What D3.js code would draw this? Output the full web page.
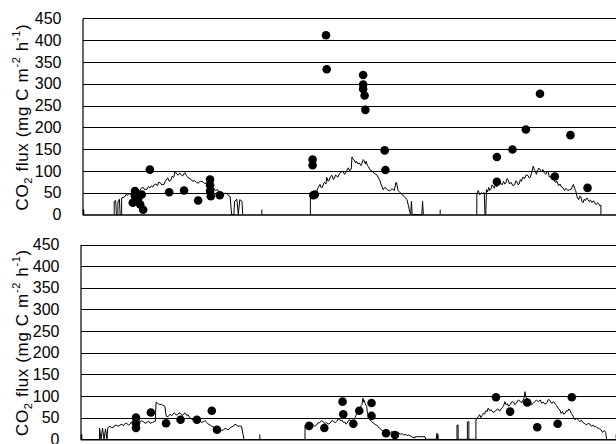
<!DOCTYPE html>
<html>
<head>
<meta charset="utf-8">
<script src="https://cdn.jsdelivr.net/npm/d3@7"></script>
<style>
  body { margin: 0; background: #fff; }
  text { font-family: "Liberation Sans", Arial, sans-serif; }
</style>
</head>
<body>
<div id="chart"></div>
<script>
// y ticks shared by both panels
const yTicks = [0, 50, 100, 150, 200, 250, 300, 350, 400, 450];
// day boundaries, hours
const dayTicks = [0, 24, 48, 72];

// top panel: continuous trace [hour, flux], one array per day
const topTraceDay1 = [[4.2,0],[4.2,30],[4.4,32],[4.5,0],[4.7,0],[4.7,28],[4.9,35],[5.0,0],[5.2,0],[5.2,38],[5.6,40],
  [5.8,46],[6.0,44],[6.2,49],[6.4,45],[6.6,47],[6.8,53],[7.0,50],[7.2,52],[7.4,57],[7.6,54],[7.8,60],[8.1,62],
  [8.3,57],[8.6,58],[8.8,64],[9.0,61],[9.2,66],[9.4,63],[9.6,69],[9.8,70],[10.0,66],[10.2,74],[10.4,73],
  [10.6,68],[10.9,69],[11.1,77],[11.4,84],[11.6,76],[11.8,78],[12.0,88],[12.2,85],[12.4,99],[12.6,93],
  [12.8,90],[13.0,95],[13.2,92],[13.4,88],[13.7,96],[13.9,90],[14.1,85],[14.4,82],[14.6,79],[14.8,76],
  [15.0,78],[15.3,73],[15.5,72],[15.8,76],[16.1,75],[16.4,71],[16.7,73],[16.9,66],[17.2,60],[17.5,62],
  [17.8,55],[18.1,57],[18.4,50],[18.6,52],[18.9,45],[19.1,49],[19.4,48],[19.6,43],[19.8,41],
  [20.0,0],[20.3,0],[20.4,30],[20.7,35],[20.9,0],[21.1,34],[21.4,30],[21.5,0]];
const topTraceDay2 = [[30.6,0],[30.6,42],[30.8,44],[31.0,45],[31.2,52],[31.4,50],[31.6,60],[31.9,69],[32.0,63],
  [32.2,62],[32.4,72],[32.5,74],[32.7,70],[32.8,85],[33.0,76],[33.1,78],[33.3,87],[33.5,90],[33.7,80],
  [33.8,82],[34.0,91],[34.1,88],[34.3,86],[34.5,93],[34.7,97],[35.0,99],[35.2,92],[35.3,94],[35.5,101],
  [35.7,107],[35.9,100],[36.0,104],[36.1,104],[36.2,132],[36.4,126],[36.5,125],[36.7,118],[36.8,122],
  [37.0,116],[37.2,118],[37.4,112],[37.5,115],[37.7,126],[37.8,124],[38.0,116],[38.1,122],[38.3,112],
  [38.4,110],[38.6,103],[38.8,101],[39.0,98],[39.2,94],[39.5,92],[39.7,86],[39.9,80],[40.1,70],[40.4,57],
  [40.6,62],[40.8,60],[41.0,56],[41.3,54],[41.5,58],[41.7,58],[41.9,55],[42.1,73],[42.2,73],[42.4,55],
  [42.6,52],[42.7,50],[42.9,46],[43.2,42],[43.4,38],[43.6,34],[43.8,20],[44.0,4],[44.1,0],[44.2,30],
  [44.3,0],[45.6,0],[45.7,30],[45.8,0]];
const topTraceDay3 = [[53.0,0],[53.0,48],[53.2,55],[53.4,45],[53.6,50],[53.8,48],[54.0,50],[54.1,0],[54.2,0],
  [54.3,57],[54.45,52],[54.6,62],[54.75,55],[54.9,58],[55.05,68],[55.2,65],[55.35,60],[55.5,70],[55.65,63],
  [55.8,66],[56.0,74],[56.2,72],[56.4,68],[56.6,76],[56.75,70],[56.9,72],[57.05,82],[57.2,80],[57.4,70],
  [57.6,74],[57.85,66],[58.1,69],[58.25,77],[58.4,75],[58.55,68],[58.7,70],[58.85,80],[59.0,76],[59.2,86],
  [59.4,82],[59.65,91],[59.9,89],[60.05,84],[60.2,85],[60.4,98],[60.6,111],[60.75,102],[60.9,100],
  [61.0,92],[61.1,96],[61.3,106],[61.5,104],[61.7,98],[61.9,103],[62.1,95],[62.3,92],[62.45,99],[62.6,98],
  [62.75,86],[62.9,88],[63.1,80],[63.3,82],[63.55,74],[63.8,76],[64.0,66],[64.2,70],[64.4,63],[64.6,61],
  [64.8,55],[65.0,60],[65.25,55],[65.5,57],[65.7,58],[65.8,62],[66.0,69],[66.15,60],[66.3,55],[66.5,40],
  [66.7,34],[66.85,42],[67.0,40],[67.15,30],[67.3,27],[67.45,35],[67.6,32],[67.8,38],[67.95,34],[68.1,30],
  [68.3,33],[68.5,27],[68.65,31],[68.8,30],[68.95,24],[69.1,23],[69.25,27],[69.4,25],[69.55,20],[69.7,21],
  [69.7,0]];
// top panel: measured points [hour, flux]
const topPoints = [[9.0,103],[7.0,54],[7.0,42],[7.2,31],[7.7,23],[8.1,11],[7.9,46],[7.4,35],[6.7,27],
  [11.6,51],[13.6,55],[15.5,32],[17.1,80],[17.1,67],[17.1,54],[17.2,42],[18.4,44],
  [32.7,411],[32.8,333],[37.7,320],[37.7,298],[37.7,288],[37.9,273],[38.0,240],[40.6,147],[40.7,102],
  [30.9,126],[30.9,113],[31.0,44],[31.2,46],
  [61.5,277],[59.6,195],[57.8,149],[55.7,132],[55.7,75],[63.5,87],[65.6,182],[67.9,61]];

// bottom panel
const bottomTraceDay1 = [[2.5,0],[2.5,26],[2.7,0],[2.9,26],[3.1,0],[3.3,24],[3.5,0],[3.6,26],[3.7,28],[3.9,30],
  [4.1,27],[4.4,28],[4.6,33],[4.8,32],[5.0,30],[5.25,33],[5.5,35],[5.7,31],[5.9,36],[6.15,37],[6.4,33],
  [6.6,35],[6.8,40],[7.0,40],[7.27,41],[7.5,37],[7.8,38],[8.1,43],[8.4,41],[8.6,37],[8.9,39],[9.1,42],
  [9.3,37],[9.6,39],[9.9,41],[10.0,41],[10.1,85],[10.25,84],[10.4,82],[10.6,80],[10.8,81],[11.0,79],
  [11.3,76],[11.4,60],[11.5,53],[11.7,52],[12.0,58],[12.15,55],[12.3,56],[12.5,61],[12.65,60],[12.8,56],
  [13.0,57],[13.2,61],[13.4,60],[13.6,55],[13.8,57],[13.95,61],[14.1,59],[14.25,55],[14.4,57],[14.55,52],
  [14.7,50],[14.9,46],[15.1,45],[15.3,47],[15.6,44],[15.8,46],[16.0,43],[16.2,39],[16.5,41],[16.7,43],
  [17.0,38],[17.2,34],[17.4,33],[17.6,30],[17.9,28],[18.1,24],[18.3,22],[18.5,26],[18.7,24],[18.9,20],
  [19.15,22],[19.4,25],[19.6,24],[19.8,22],[20.05,26],[20.3,29],[20.5,30],[20.7,35],[20.95,33],[21.1,30],
  [21.3,31],[21.6,30],[21.9,3],[21.9,0]];
const bottomTraceDay2 = [[30.15,0],[30.15,33],[30.35,29],[30.5,31],[30.8,30],[31.0,35],[31.2,34],[31.45,30],
  [31.7,33],[31.9,38],[32.1,38],[32.35,43],[32.6,41],[32.8,36],[33.0,39],[33.25,35],[33.5,37],[33.75,43],
  [34.0,42],[34.2,38],[34.4,41],[34.6,47],[34.8,46],[34.95,42],[35.1,45],[35.3,39],[35.5,40],[35.65,35],
  [35.8,37],[36.0,44],[36.2,45],[36.4,40],[36.65,41],[36.85,50],[37.0,55],[37.15,62],[37.3,68],[37.45,64],
  [37.6,72],[37.7,78],[37.8,80],[37.95,95],[38.05,86],[38.1,90],[38.25,82],[38.45,76],[38.55,60],[38.7,53],
  [38.9,45],[39.1,41],[39.3,38],[39.5,36],[39.65,33],[39.8,33],[40.0,29],[40.2,25],[40.45,22],[40.7,18],
  [40.9,20],[41.1,17],[41.35,15],[41.6,14],[41.8,18],[42.0,16],[42.25,13],[42.5,14],[42.75,15],[43.0,12],
  [43.2,13],[43.4,10],[43.65,11],[43.9,9],[44.1,10],[44.3,8],[44.6,5],[44.95,3],[45.0,6],[45.4,6],[46.3,6],
  [46.4,0],[47.8,0],[47.9,14],[48.0,0]];
const bottomTraceDay3 = [[50.6,0],[50.6,33],[50.75,33],[50.75,0],[52.0,0],[52.0,40],[52.2,41],[52.2,0],
  [53.15,0],[53.15,45],[53.3,48],[53.5,53],[53.65,57],[53.8,50],[54.0,55],[54.15,60],[54.3,58],[54.5,66],
  [54.65,64],[54.8,72],[55.0,66],[55.2,68],[55.45,62],[55.7,64],[55.9,68],[56.1,70],[56.35,65],[56.6,72],
  [56.85,76],[57.05,87],[57.2,80],[57.4,82],[57.55,76],[57.75,80],[58.0,87],[58.2,86],[58.4,80],[58.6,84],
  [58.85,91],[59.1,88],[59.3,84],[59.5,91],[59.65,96],[59.75,110],[59.85,98],[60.0,95],[60.2,90],[60.4,88],
  [60.65,80],[60.9,84],[61.1,88],[61.3,90],[61.55,87],[61.8,91],[62.0,83],[62.2,86],[62.45,81],[62.7,84],
  [62.9,92],[63.1,90],[63.35,83],[63.6,87],[63.8,82],[64.0,78],[64.2,72],[64.45,68],[64.6,60],[64.8,64],
  [64.95,58],[65.15,60],[65.3,66],[65.5,65],[65.65,70],[65.8,68],[65.95,60],[66.1,58],[66.3,50],[66.5,45],
  [66.65,49],[66.8,47],[67.0,43],[67.15,41],[67.35,44],[67.6,38],[67.8,36],[68.05,33],[68.25,37],[68.5,35],
  [68.7,30],[68.95,33],[69.1,29],[69.3,30],[69.45,27],[69.6,26],[69.8,24],[70.0,22],[70.15,16],[70.3,18],
  [70.45,20],[70.6,16],[70.75,0]];
const bottomPoints = [[7.4,50],[7.4,37],[7.4,26],[9.4,62],[11.45,37],[13.4,45],[15.6,45],[17.6,66],[18.3,22],
  [35.2,87],[35.3,58],[30.7,31],[32.75,26],[36.65,36],[37.45,66],[39.1,84],[39.1,54],[41.05,14],[42.25,10],
  [55.85,97],[57.75,64],[60.05,85],[66.05,97],[61.4,28],[64.15,36]];

const width = 616, height = 444;
const svg = d3.select("#chart").append("svg")
  .attr("width", width)
  .attr("height", height);

function drawPanel(p) {
  const x = d3.scaleLinear().domain([0, 72]).range([p.left, p.left + 535]);
  const y = d3.scaleLinear().domain([0, 450]).range([p.bottom, p.top]);
  const g = svg.append("g");

  // gridlines
  g.selectAll("line.grid")
    .data(yTicks.slice(1))
    .enter().append("line")
    .attr("x1", p.left).attr("x2", width)
    .attr("y1", d => Math.round(y(d)) + 0.5).attr("y2", d => Math.round(y(d)) + 0.5)
    .attr("stroke", "#000").attr("stroke-width", 1);

  // y axis
  const yAxis = g.append("g")
    .attr("transform", `translate(${p.left - 0.5},0)`)
    .call(d3.axisLeft(y).tickValues(yTicks).tickSize(0).tickPadding(21));
  yAxis.select(".domain").attr("stroke", "#000").attr("stroke-width", 1.2);
  yAxis.selectAll("text")
    .attr("font-size", 16)
    .attr("fill", "#000")
    .style("font-family", "'Liberation Sans', Arial, sans-serif");

  // x axis: day ticks pointing up, no labels
  const xAxis = g.append("g")
    .attr("transform", `translate(0,${p.bottom})`)
    .call(d3.axisBottom(x).tickValues(dayTicks).tickSize(-5).tickFormat(""));
  xAxis.select(".domain").attr("stroke", "#000").attr("stroke-width", 1.6);
  xAxis.selectAll(".tick line").attr("stroke", "#000");

  // trace
  const line = d3.line().x(d => x(d[0])).y(d => y(d[1]));
  p.traces.forEach(t => {
    g.append("path")
      .datum(t)
      .attr("fill", "none")
      .attr("stroke", "#000")
      .attr("stroke-width", 1)
      .attr("d", line);
  });

  // points
  g.selectAll("circle")
    .data(p.points)
    .enter().append("circle")
    .attr("cx", d => x(d[0]))
    .attr("cy", d => y(d[1]))
    .attr("r", 4.3)
    .attr("fill", "#000");

  // y title
  const t = g.append("text")
    .attr("transform", `translate(28,${(p.top + p.bottom) / 2 + 1}) rotate(-90)`)
    .attr("text-anchor", "middle")
    .attr("font-size", 17)
    .attr("textLength", 186)
    .attr("lengthAdjust", "spacing")
    .attr("fill", "#000");
  t.append("tspan").text("CO");
  t.append("tspan").attr("font-size", 11).attr("dy", 4).text("2");
  t.append("tspan").attr("dy", -4).text(" flux (mg C m");
  t.append("tspan").attr("font-size", 11).attr("dy", -8).text("-2");
  t.append("tspan").attr("dy", 8).text(" h");
  t.append("tspan").attr("font-size", 11).attr("dy", -8).text("-1");
  t.append("tspan").attr("dy", 8).text(")");
}

drawPanel({ top: 18.3, bottom: 214.5, left: 83,
  traces: [topTraceDay1, topTraceDay2, topTraceDay3], points: topPoints });
drawPanel({ top: 244.5, bottom: 439.3, left: 81,
  traces: [bottomTraceDay1, bottomTraceDay2, bottomTraceDay3], points: bottomPoints });
</script>
</body>
</html>
